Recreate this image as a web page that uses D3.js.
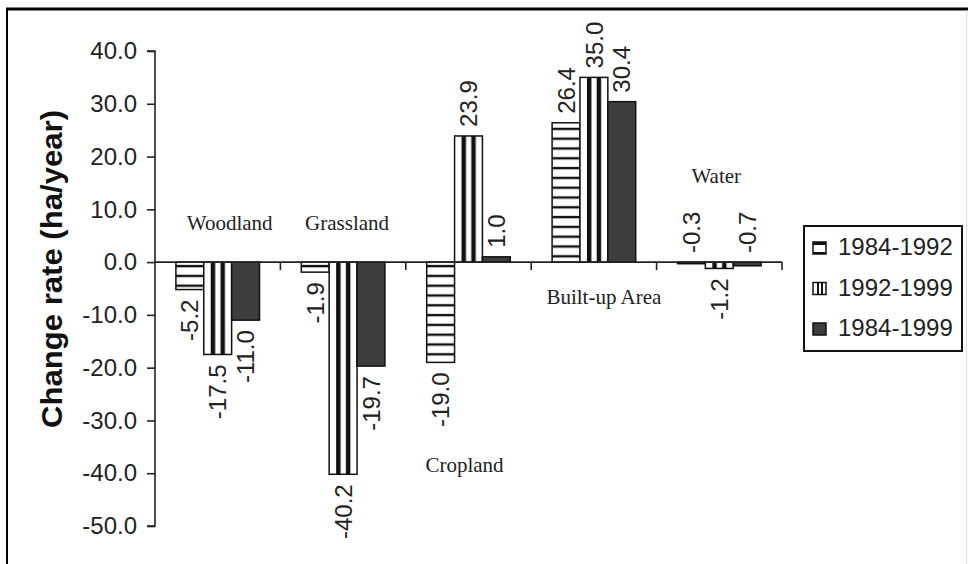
<!DOCTYPE html>
<html>
<head>
<meta charset="utf-8">
<script src="https://cdn.jsdelivr.net/npm/d3@7"></script>
<style>
  html, body { margin: 0; padding: 0; background: #fff; }
  svg { display: block; }
</style>
</head>
<body>
<svg id="chart" width="968" height="564"></svg>
<script>
// ---- data ----
const categories = ["Woodland", "Grassland", "Cropland", "Built-up Area", "Water"];
const seriesNames = ["1984-1992", "1992-1999", "1984-1999"];
const values1984_1992 = [-5.2, -1.9, -19.0, 26.4, -0.3];
const values1992_1999 = [-17.5, -40.2, 23.9, 35.0, -1.2];
const values1984_1999 = [-11.0, -19.7, 1.0, 30.4, -0.7];
const yTickValues = [40, 30, 20, 10, 0, -10, -20, -30, -40, -50];
const yAxisTitle = "Change rate (ha/year)";

// ---- layout (not data) ----
const W = 968, H = 564;
const plot = { left: 155, right: 782, top: 51, bottom: 526 };
// category label placement: [dx from category centre (px), value-level for baseline]
const catLabelPlace = [[12, 6.0], [4, 6.0], [-4, -39.8], [10, -8.0], [-3, 14.9]];

const svg = d3.select("#chart");
const sans = "'Liberation Sans', Arial, Helvetica, sans-serif";
const serif = "'Liberation Serif', 'Times New Roman', serif";

const seriesValues = [values1984_1992, values1992_1999, values1984_1999];
const rows = [];
categories.forEach((c, i) => {
  seriesNames.forEach((s, j) => rows.push({ cat: c, ci: i, series: s, si: j, value: seriesValues[j][i] }));
});

const y = d3.scaleLinear().domain([-50, 40]).range([plot.bottom, plot.top]);
const x = d3.scaleBand().domain(categories).range([plot.left, plot.right]).padding(0);
const step = x.bandwidth();
const barW = step / 4.5;
const x1 = d3.scaleBand().domain(seriesNames)
  .range([barW * 0.75, step - barW * 0.75]).padding(0);
const bw = x1.bandwidth();

// ---- frame ----
svg.append("line").attr("x1", 6).attr("x2", W).attr("y1", 9).attr("y2", 9)
  .attr("stroke", "#000").attr("stroke-width", 3);
svg.append("line").attr("x1", 7).attr("x2", 7).attr("y1", 8).attr("y2", H)
  .attr("stroke", "#000").attr("stroke-width", 2);
svg.append("line").attr("x1", 966.5).attr("x2", 966.5).attr("y1", 10).attr("y2", H)
  .attr("stroke", "#ddd").attr("stroke-width", 1);

// ---- patterns ----
const defs = svg.append("defs");
// horizontal stripes, phase anchored on zero line
const ph = defs.append("pattern").attr("id", "hstripe")
  .attr("patternUnits", "userSpaceOnUse")
  .attr("x", 0).attr("y", y(0)).attr("width", 10).attr("height", 9.8);
ph.append("rect").attr("width", 10).attr("height", 9.8).attr("fill", "#fff");
ph.append("rect").attr("y", 2.8).attr("width", 10).attr("height", 2.4).attr("fill", "#111");
// vertical stripes: two thick black stripes per bar, tile = one bar width
function vPattern(id, x0, w) {
  const p = defs.append("pattern").attr("id", id)
    .attr("patternUnits", "userSpaceOnUse")
    .attr("x", x0).attr("y", 0).attr("width", w).attr("height", 40);
  p.append("rect").attr("width", w).attr("height", 40).attr("fill", "#fff");
  p.append("rect").attr("x", w * 0.25).attr("width", w * 0.16).attr("height", 40).attr("fill", "#111");
  p.append("rect").attr("x", w * 0.6).attr("width", w * 0.16).attr("height", 40).attr("fill", "#111");
}
categories.forEach((c, i) => vPattern("vstripe" + i, x(c) + x1(seriesNames[1]), bw));

function fillFor(d) {
  if (d.si === 0) return "url(#hstripe)";
  if (d.si === 1) return "url(#vstripe" + d.ci + ")";
  return "#3d3d3d";
}

// ---- y axis ----
const yAxis = d3.axisLeft(y).tickValues(yTickValues).tickSize(8).tickPadding(10)
  .tickFormat(d => d.toFixed(1));
const gy = svg.append("g").attr("transform", `translate(${plot.left},0)`).call(yAxis);
gy.select(".domain").attr("stroke", "#222").attr("stroke-width", 1.6)
  .attr("d", `M-8,${plot.top}H0V${plot.bottom}H-8`);
gy.selectAll(".tick line").attr("stroke", "#222").attr("stroke-width", 1.6);
gy.selectAll(".tick text").attr("font-family", sans).attr("font-size", 24).attr("fill", "#222");

svg.append("text")
  .attr("transform", `translate(62,269) rotate(-90)`)
  .attr("text-anchor", "middle")
  .attr("font-family", sans).attr("font-weight", "bold").attr("font-size", 29)
  .attr("textLength", 318).attr("lengthAdjust", "spacingAndGlyphs")
  .attr("fill", "#111")
  .text(yAxisTitle);

// ---- bars ----
svg.append("g").selectAll("rect").data(rows).join("rect")
  .attr("x", d => x(d.cat) + x1(d.series))
  .attr("width", bw)
  .attr("y", d => y(Math.max(0, d.value)))
  .attr("height", d => Math.abs(y(d.value) - y(0)))
  .attr("fill", fillFor)
  .attr("stroke", "#111").attr("stroke-width", 1.5);

// ---- x axis (zero line with category dividers) ----
const gx = svg.append("g").attr("transform", `translate(0,${y(0)})`);
gx.append("line").attr("x1", plot.left).attr("x2", plot.right)
  .attr("stroke", "#222").attr("stroke-width", 1.6);
const bounds = categories.map(c => x(c)).concat([plot.right]);
gx.selectAll("line.tk").data(bounds.slice(1)).join("line").attr("class", "tk")
  .attr("x1", d => d).attr("x2", d => d).attr("y1", 0).attr("y2", 8)
  .attr("stroke", "#222").attr("stroke-width", 1.6);

// ---- value labels ----
svg.append("g").selectAll("text").data(rows).join("text")
  .attr("transform", d => {
    const cx = x(d.cat) + x1(d.series) + bw / 2;
    const above = d.value >= 0 || Math.abs(d.value) < 1;
    const yy = above ? y(Math.max(0, d.value)) - 9 : y(d.value) + 10;
    return `translate(${cx},${yy}) rotate(-90)`;
  })
  .attr("text-anchor", d => (d.value >= 0 || Math.abs(d.value) < 1) ? "start" : "end")
  .attr("dy", "0.36em")
  .attr("font-family", sans).attr("font-size", 24).attr("fill", "#222")
  .text(d => d.value.toFixed(1));

// ---- category labels ----
svg.append("g").selectAll("text").data(categories).join("text")
  .attr("x", (c, i) => x(c) + step / 2 + catLabelPlace[i][0])
  .attr("y", (c, i) => y(catLabelPlace[i][1]))
  .attr("text-anchor", "middle")
  .attr("font-family", serif).attr("font-size", 21).attr("fill", "#222")
  .text(c => c);

// ---- legend ----
const lg = svg.append("g").attr("transform", "translate(804,226)");
lg.append("rect").attr("width", 158).attr("height", 125)
  .attr("fill", "#fff").attr("stroke", "#111").attr("stroke-width", 2);
const li = lg.selectAll("g.item").data(seriesNames).join("g").attr("class", "item")
  .attr("transform", (d, i) => `translate(0,${29 + i * 40.5})`);
li.append("rect").attr("x", 9).attr("y", -13).attr("width", 13).attr("height", 12)
  .attr("fill", (d, i) => i === 2 ? "#3d3d3d" : "#fff")
  .attr("stroke", "#111").attr("stroke-width", 1.5);
// small stripe marks inside legend swatches
li.filter((d, i) => i === 0).append("rect").attr("x", 9).attr("y", -13).attr("width", 13).attr("height", 3).attr("fill", "#111");
li.filter((d, i) => i === 0).append("rect").attr("x", 9).attr("y", -3).attr("width", 13).attr("height", 2).attr("fill", "#111");
li.filter((d, i) => i === 1).append("rect").attr("x", 13).attr("y", -13).attr("width", 2).attr("height", 12).attr("fill", "#111");
li.filter((d, i) => i === 1).append("rect").attr("x", 17).attr("y", -13).attr("width", 2).attr("height", 12).attr("fill", "#111");
li.append("text").attr("x", 34).attr("y", 0)
  .attr("font-family", sans).attr("font-size", 24).attr("fill", "#222")
  .text(d => d);
</script>
</body>
</html>
